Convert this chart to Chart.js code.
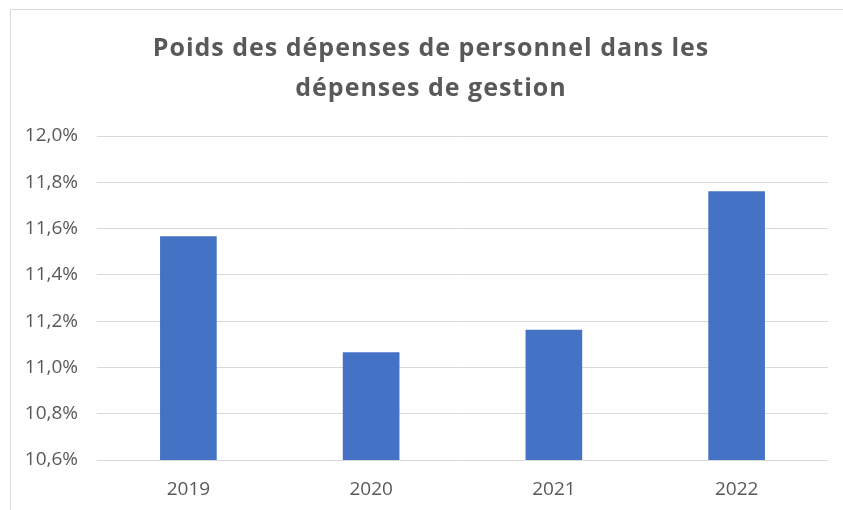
<!DOCTYPE html>
<html>
<head>
<meta charset="utf-8">
<script src="https://cdn.jsdelivr.net/npm/chart.js@4"></script>
<style>
  html, body { margin: 0; padding: 0; background: #fff; }
  #wrap { position: relative; width: 843px; height: 510px; overflow: hidden; }
  #frame { position: absolute; left: 10px; top: 9px; width: 900px; height: 600px; border: 1px solid #d9d9d9; box-sizing: border-box; }
  canvas { position: absolute; left: 0; top: 0; }
</style>
</head>
<body>
<div id="wrap">
  <div id="frame"></div>
  <canvas id="c" width="843" height="510"></canvas>
</div>
<script>
const categories = ['2019', '2020', '2021', '2022'];
const values = [11.567, 11.066, 11.163, 11.761];
const titleLines = ['Poids des dépenses de personnel dans les', 'dépenses de gestion'];
const yMin = 10.6, yMax = 12.0, yStep = 0.2;

const grey = '#595959';
const fontFam = '"Open Sans", Lato, sans-serif';

// Centre the title on the outer chart frame and give it a little letter spacing
const titleTweak = {
  id: 'titleTweak',
  afterLayout(chart) {
    const t = chart.titleBlock;
    if (!t) return;
    t.left = 19;
    t.right = 843;
    if (!t._wrapped) {
      const orig = t.draw.bind(t);
      t.draw = function (area) {
        const ctx = chart.ctx;
        ctx.save();
        if ('letterSpacing' in ctx) ctx.letterSpacing = '1px';
        orig(area);
        ctx.restore();
      };
      t._wrapped = true;
    }
  }
};

new Chart(document.getElementById('c'), {
  type: 'bar',
  data: {
    labels: categories,
    datasets: [{
      data: values,
      backgroundColor: '#4472C4',
      borderWidth: 0,
      categoryPercentage: 1,
      barPercentage: 0.31
    }]
  },
  plugins: [titleTweak],
  options: {
    responsive: false,
    animation: false,
    devicePixelRatio: 1,
    layout: { padding: { left: 0, right: 15, top: 0, bottom: 0 } },
    plugins: {
      legend: { display: false },
      tooltip: { enabled: false },
      title: {
        display: true,
        text: titleLines,
        color: grey,
        font: { family: fontFam, size: 25, weight: 'bold', lineHeight: 40 / 25 },
        padding: { top: 29, bottom: 27 }
      }
    },
    scales: {
      x: {
        grid: { display: false, drawTicks: false },
        border: { display: false },
        ticks: { color: grey, font: { family: fontFam, size: 19 }, padding: 18 },
        afterFit: (s) => { s.height = 50; }
      },
      y: {
        min: yMin, max: yMax,
        grid: { color: '#d9d9d9', lineWidth: 1, drawTicks: false },
        border: { display: false },
        ticks: {
          stepSize: yStep,
          color: grey,
          font: { family: fontFam, size: 19 },
          padding: 19,
          callback: (v) => v.toFixed(1).replace('.', ',') + '%'
        },
        afterFit: (s) => { s.width = 97; }
      }
    }
  }
});
</script>
</body>
</html>
